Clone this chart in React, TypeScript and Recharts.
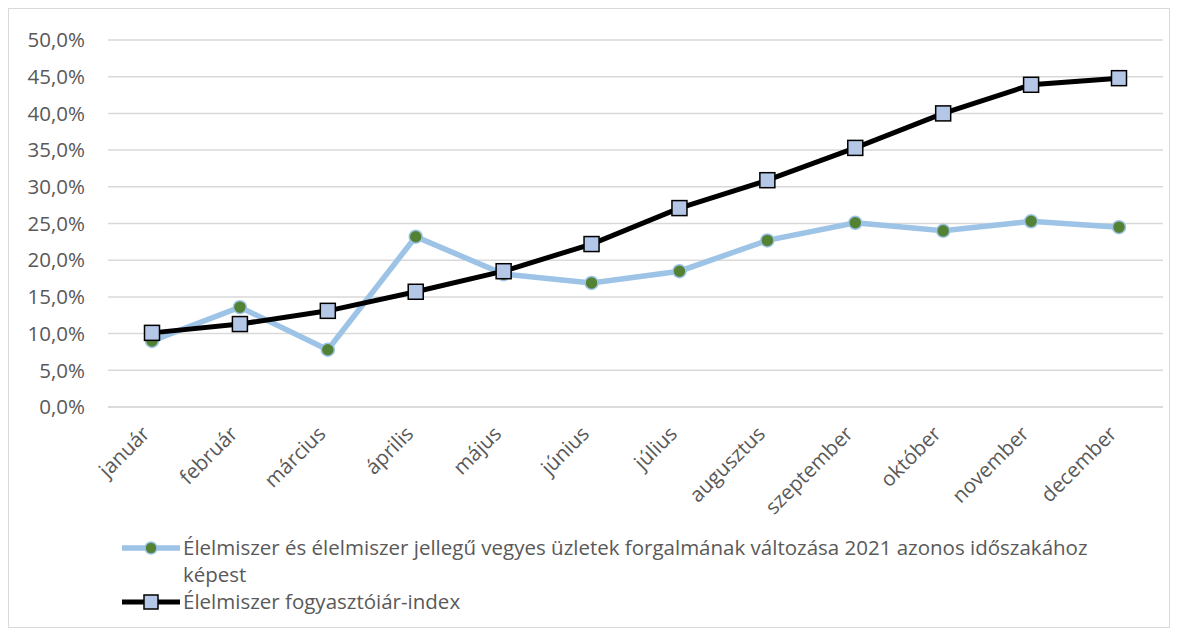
import { CartesianGrid, Line, LineChart, XAxis, YAxis } from "recharts";

const months = [
  "január",
  "február",
  "március",
  "április",
  "május",
  "június",
  "július",
  "augusztus",
  "szeptember",
  "október",
  "november",
  "december",
];

// Élelmiszer és élelmiszer jellegű vegyes üzletek forgalmának változása
const forgalom = [9.0, 13.6, 7.8, 23.2, 18.1, 16.9, 18.5, 22.7, 25.1, 24.0, 25.3, 24.5];
// Élelmiszer fogyasztóiár-index
const arindex = [10.1, 11.3, 13.1, 15.7, 18.5, 22.2, 27.1, 30.9, 35.3, 40.0, 43.9, 44.8];

const yTicks = [0, 5, 10, 15, 20, 25, 30, 35, 40, 45, 50];

const data = months.map((m, i) => ({
  month: m,
  forgalom: forgalom[i],
  arindex: arindex[i],
}));

const FONT = "'Open Sans', Lato, sans-serif";
const GREY = "#595959";
const FS = 20.5;

const fmtPct = (v: number) => `${v.toFixed(1).replace(".", ",")}%`;

const MonthTick = (props: any) => {
  const { x, y, payload } = props;
  const tx = x - 1;
  const ty = y + 20;
  return (
    <text
      x={tx}
      y={ty}
      transform={`rotate(-45, ${tx}, ${ty})`}
      textAnchor="end"
      fill={GREY}
      fontSize={FS}
      fontFamily={FONT}
    >
      {payload.value}
    </text>
  );
};

const SquareDot = (props: any) => {
  const { cx, cy, index } = props;
  if (cx == null || cy == null) return null;
  return (
    <rect
      key={`sq-${index}`}
      x={cx - 7.5}
      y={cy - 7.5}
      width={15}
      height={15}
      fill="#b4c7e7"
      stroke="#000"
      strokeWidth={1.5}
    />
  );
};

export default function App() {
  return (
    <div
      style={{
        position: "relative",
        width: 1160,
        height: 618,
        border: "1px solid #d9d9d9",
        fontFamily: FONT,
      }}
    >
      <LineChart
        width={1160}
        height={520}
        data={data}
        margin={{ top: 31, right: 6, bottom: 12, left: 0 }}
      >
        <CartesianGrid vertical={false} stroke="#d9d9d9" strokeWidth={1.5} />
        <XAxis
          dataKey="month"
          height={110}
          padding={{ left: 44, right: 44 }}
          axisLine={{ stroke: "#d9d9d9", strokeWidth: 1.5 }}
          tickLine={false}
          interval={0}
          tick={<MonthTick />}
        />
        <YAxis
          width={99}
          domain={[0, 50]}
          ticks={yTicks}
          tickFormatter={fmtPct}
          axisLine={false}
          tickLine={false}
          tickMargin={17}
          tick={{ fill: GREY, fontSize: FS, fontFamily: FONT }}
        />
        <Line
          dataKey="forgalom"
          stroke="#9dc3e6"
          strokeWidth={5.5}
          dot={{ r: 6.5, fill: "#548235", stroke: "#9dc3e6", strokeWidth: 1.5 }}
          isAnimationActive={false}
        />
        <Line
          dataKey="arindex"
          stroke="#000"
          strokeWidth={5}
          dot={<SquareDot />}
          isAnimationActive={false}
        />
      </LineChart>
      <div
        style={{
          position: "absolute",
          left: 113,
          top: 525,
          fontSize: FS,
          color: GREY,
          lineHeight: "27px",
        }}
      >
        <div style={{ display: "flex", alignItems: "flex-start" }}>
          <svg width={61} height={27} style={{ flex: "none" }}>
            <line x1={0} y1={14} x2={58} y2={14} stroke="#9dc3e6" strokeWidth={5.5} />
            <circle cx={29} cy={14} r={6} fill="#548235" stroke="#9dc3e6" strokeWidth={1.5} />
          </svg>
          <div>
            Élelmiszer és élelmiszer jellegű vegyes üzletek forgalmának változása 2021 azonos időszakához
            <br />
            képest
          </div>
        </div>
        <div style={{ display: "flex", alignItems: "flex-start" }}>
          <svg width={61} height={27} style={{ flex: "none" }}>
            <line x1={0} y1={14} x2={58} y2={14} stroke="#000" strokeWidth={5} />
            <rect x={22} y={7} width={14} height={14} fill="#b4c7e7" stroke="#000" strokeWidth={1.5} />
          </svg>
          <div>Élelmiszer fogyasztóiár-index</div>
        </div>
      </div>
    </div>
  );
}
